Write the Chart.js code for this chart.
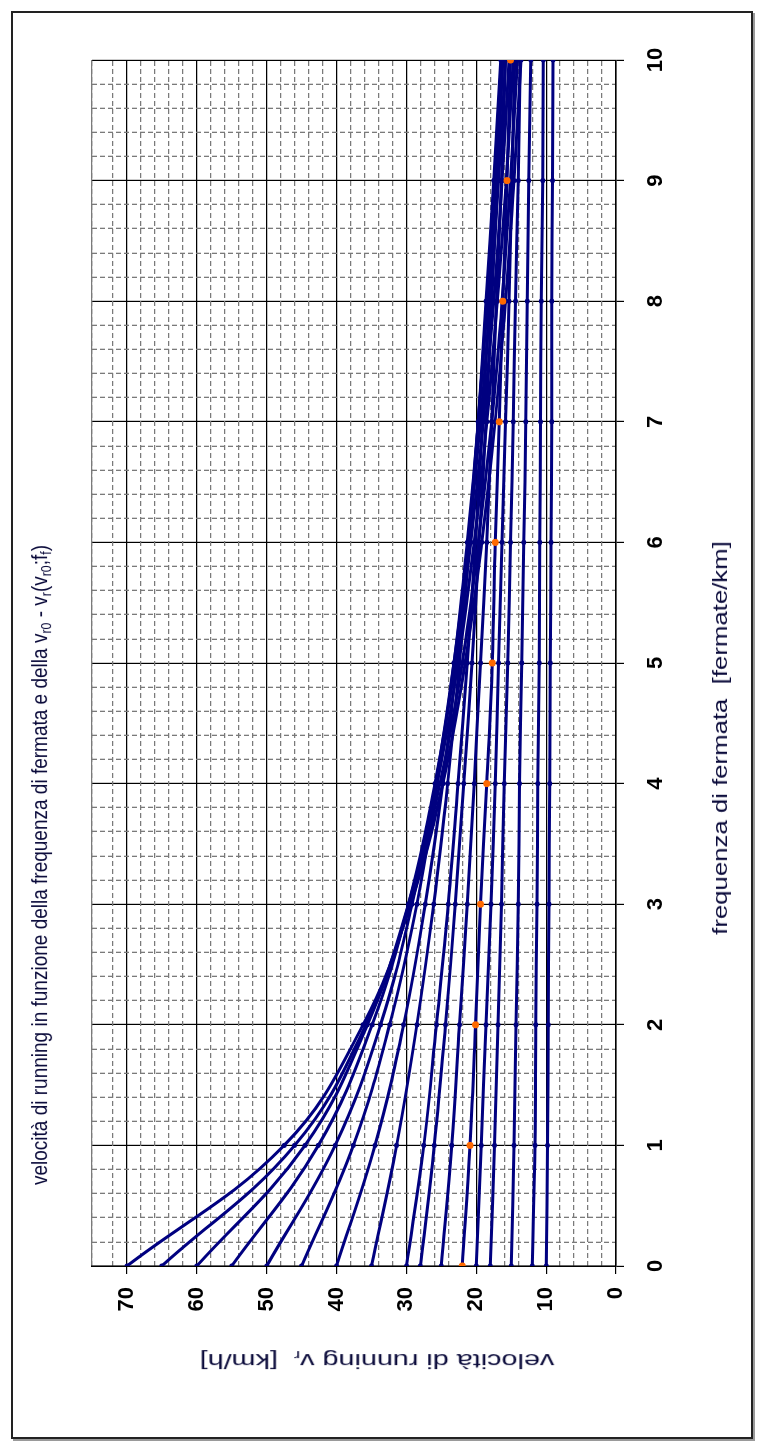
<!DOCTYPE html>
<html>
<head>
<meta charset="utf-8">
<script src="https://cdn.jsdelivr.net/npm/chart.js@4.4.1/dist/chart.umd.min.js"></script>
<style>
  body { margin: 0; background: #fff; width: 763px; height: 1450px; overflow: hidden; position: relative; }
  #cornice { position: absolute; left: 11px; top: 11px; width: 738px; height: 1424px;
             border: 2px solid #222; box-shadow: 2px 2px 0 #9a9a9a; }
  #ruotato { position: absolute; left: 0; top: 0; width: 1450px; height: 763px;
             transform-origin: 0 0; transform: translateY(1450px) rotate(-90deg); }
  #ruotato canvas { position: absolute; left: 0; top: 0; }
  .testo { position: absolute; white-space: nowrap; color: #0a0a3a;
           font-family: "Liberation Sans", Arial, sans-serif; line-height: 1; }
  .testo sub { font-size: 65%; vertical-align: -0.25em; }
</style>
</head>
<body>
<div id="cornice"></div>
<div id="ruotato">
  <canvas id="grafico" width="1450" height="763"></canvas>
  <div class="testo" id="titolo" data-u="585" data-v="41" data-len="640" data-rot="0"
       style="font-size:22px">velocità di running in funzione della frequenza di fermata e della v<sub>r0</sub> - v<sub>r</sub>(v<sub>r0</sub>;f<sub>f</sub>)</div>
  <div class="testo" id="titoloX" data-u="712" data-v="720" data-len="394" data-rot="0"
       style="font-size:20px">frequenza di fermata&nbsp; [fermate/km]</div>
  <div class="testo" id="titoloY" data-u="90" data-v="377" data-len="355" data-rot="-90"
       style="font-size:20px">velocità di running v<sub>r</sub>&nbsp; [km/h]</div>
</div>
<script>
// frequenza di fermata [fermate/km]
const frequenze = [0, 1, 2, 3, 4, 5, 6, 7, 8, 9, 10];

// velocità di running v_r [km/h] per ogni v_r0
const v70 = [70, 47.5, 36.2, 29.4, 24.8, 21.6, 19.2, 17.3, 15.8, 14.6, 13.6];
const v65 = [65, 46.0, 35.8, 29.5, 25.2, 22.0, 19.7, 17.8, 16.3, 15.1, 14.1];
const v60 = [60, 44.5, 35.6, 29.7, 25.6, 22.6, 20.3, 18.5, 17.0, 15.7, 14.7];
const v55 = [55, 42.6, 34.9, 29.7, 25.9, 23.0, 20.8, 19.0, 17.5, 16.3, 15.3];
const v50 = [50, 40.2, 33.7, 29.2, 25.8, 23.2, 21.1, 19.4, 18.0, 16.8, 15.8];
const v45 = [45, 37.6, 32.4, 28.5, 25.6, 23.2, 21.3, 19.7, 18.4, 17.2, 16.2];
const v40 = [40, 34.5, 30.4, 27.3, 24.8, 22.8, 21.1, 19.7, 18.5, 17.4, 16.4];
const v35 = [35, 31.4, 28.5, 26.1, 24.1, 22.4, 21.0, 19.7, 18.6, 17.5, 16.5];
const v30 = [30, 27.5, 25.7, 24.0, 22.6, 21.3, 20.1, 19.1, 18.1, 17.2, 16.4];
const v28 = [28, 26.0, 24.4, 23.0, 21.8, 20.6, 19.6, 18.6, 17.8, 17.0, 16.2];
const v25 = [25, 23.5, 22.4, 21.3, 20.3, 19.4, 18.5, 17.8, 17.1, 16.4, 15.8];
const v22 = [22, 20.9, 20.1, 19.4, 18.5, 17.7, 17.3, 16.7, 16.2, 15.6, 15.1];
const v20 = [20, 19.3, 18.6, 17.9, 17.3, 16.8, 16.3, 15.8, 15.3, 14.9, 14.5];
const v18 = [18, 17.4, 16.9, 16.4, 16.0, 15.5, 15.1, 14.7, 14.4, 14.0, 13.7];
const v15 = [15, 14.6, 14.3, 14.0, 13.8, 13.5, 13.2, 12.9, 12.7, 12.5, 12.2];
const v12 = [12, 11.6, 11.5, 11.3, 11.2, 11.0, 10.9, 10.8, 10.7, 10.5, 10.4];
const v10 = [10, 9.8, 9.7, 9.6, 9.5, 9.4, 9.3, 9.2, 9.2, 9.1, 9.0];

const serie = [v70, v65, v60, v55, v50, v45, v40, v35, v30, v28, v25, v22, v20, v18, v15, v12, v10];
const serieArancio = v22; // la serie con i marcatori arancioni

const BLU = "#000080";
const ARANCIO = "#ff6a00";

function cargaGrafico() {
    Chart.defaults.font.family = "'Liberation Sans', Arial, sans-serif";

    const datasets = serie.map(function (valori) {
        const arancio = valori === serieArancio;
        return {
            data: frequenze.map((f, i) => ({ x: f, y: valori[i] })),
            borderColor: BLU,
            borderWidth: 3,
            backgroundColor: arancio ? ARANCIO : BLU,
            pointBackgroundColor: arancio ? ARANCIO : BLU,
            pointBorderWidth: 0,
            pointRadius: arancio ? 3.5 : 2.5,
            tension: 0.4, // linea smussata come in Excel
            xAxisID: "x",
            yAxisID: "y",
            order: arancio ? -1 : 0
        };
    });

    const intero = v => Math.abs(v - Math.round(v)) < 1e-6;

    const config = {
        type: "line",
        data: { datasets: datasets },
        options: {
            responsive: false, // rispettare la dimensione del canvas
            animation: false,
            layout: { padding: { left: 0, right: 60, top: 92, bottom: 0 } },
            plugins: { legend: { display: false }, tooltip: { enabled: false }, title: { display: false } },
            scales: {
                x: {
                    type: "linear", position: "bottom", min: 0, max: 10,
                    afterFit: s => { s.height = 147; },
                    ticks: { stepSize: 1, autoSkip: false, maxRotation: 0, minRotation: 0, padding: 19,
                             color: "#000", font: { size: 22, weight: "bold" } },
                    grid: { color: "#000", lineWidth: 1.2, tickLength: 8, tickColor: "#000" },
                    border: { color: "#000", width: 1.5 }
                },
                y: {
                    type: "linear", position: "left", min: 0, max: 75,
                    afterFit: s => { s.width = 184; },
                    ticks: { stepSize: 10, padding: 13, color: "#000", font: { size: 22, weight: "bold" },
                             callback: v => (v % 10 === 0 ? v : "") },
                    grid: {
                        color: c => (c.tick && c.tick.value % 10 !== 0 ? "#7a7a7a" : "#000"),
                        tickColor: c => (c.tick && c.tick.value % 10 !== 0 ? "rgba(0,0,0,0)" : "#000"),
                        lineWidth: 1.2, tickLength: 8
                    },
                    border: { color: "#000", width: 1.5 }
                },
                xMin: {
                    type: "linear", position: "bottom", min: 0, max: 10,
                    afterFit: s => { s.height = 0; },
                    ticks: { stepSize: 0.2, display: false, autoSkip: false },
                    grid: { color: c => (c.tick && intero(c.tick.value) ? "rgba(0,0,0,0)" : "#7a7a7a"),
                            lineWidth: 1.3, drawTicks: false, z: -1 },
                    border: { display: false, dash: [5, 3] }
                },
                yMin: {
                    type: "linear", position: "left", min: 0, max: 75,
                    afterFit: s => { s.width = 0; },
                    ticks: { stepSize: 2, display: false },
                    grid: { color: c => (c.tick && c.tick.value % 10 === 0 ? "rgba(0,0,0,0)" : "#7a7a7a"),
                            lineWidth: 1.3, drawTicks: false, z: -1 },
                    border: { display: false, dash: [5, 3] }
                }
            }
        }
    };

    const ctx = document.getElementById("grafico").getContext("2d");
    new Chart(ctx, config);
}

function posizionaTesti() {
    document.querySelectorAll(".testo").forEach(function (el) {
        const k = Number(el.dataset.len) / el.offsetWidth;
        el.style.left = el.dataset.u + "px";
        el.style.top = el.dataset.v + "px";
        el.style.transform = "translate(-50%, -50%) rotate(" + el.dataset.rot + "deg) scaleX(" + k + ")";
    });
}

cargaGrafico();
posizionaTesti();
</script>
</body>
</html>
